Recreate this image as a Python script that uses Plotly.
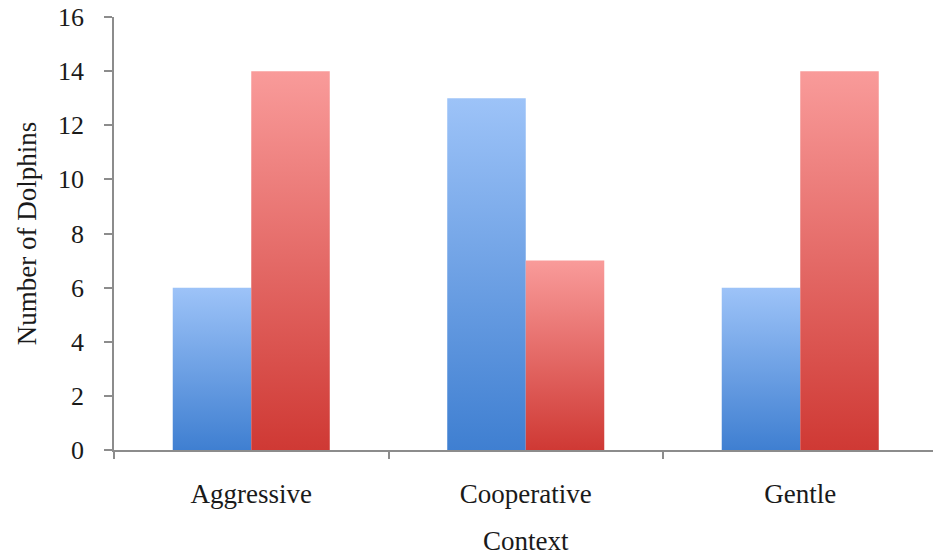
import plotly.graph_objects as go

# Dolphin counts per behavioural context
categories = ["Aggressive", "Cooperative", "Gentle"]
series_blue = [6, 13, 6]
series_red = [14, 7, 14]
y_tick_values = [0, 2, 4, 6, 8, 10, 12, 14, 16]

# gradient colours (bottom, top) for each series
blue_grad = ["#3f7fd1", "#9dc3f8"]
red_grad = ["#cf3934", "#f99b9a"]

bar_width = 0.286          # width of one bar in category units
axis_grey = "#8c8c8c"
font_family = "Liberation Serif"

fig = go.Figure()

series_list = [("Series 1", series_blue, blue_grad), ("Series 2", series_red, red_grad)]
for s_idx, (name, values, grad) in enumerate(series_list):
    for c_idx, val in enumerate(values):
        x0 = c_idx - bar_width + s_idx * bar_width
        x1 = x0 + bar_width
        fig.add_trace(go.Scatter(
            x=[x0, x1, x1, x0, x0],
            y=[0, 0, val, val, 0],
            mode="lines",
            line=dict(width=0),
            fill="toself",
            fillgradient=dict(type="vertical",
                              colorscale=[[0, grad[0]], [1, grad[1]]]),
            name=name,
            text=categories[c_idx],
            hoveron="fills",
            showlegend=False,
        ))

x_range = [-0.5, 2.4836]

fig.update_layout(
    width=933,
    height=558,
    margin=dict(l=114, r=0, t=17, b=108),
    plot_bgcolor="white",
    paper_bgcolor="white",
    font=dict(family=font_family, size=26, color="#1a1a1a"),
    showlegend=False,
    xaxis=dict(
        range=x_range,
        tickmode="array",
        tickvals=list(range(len(categories))),
        ticktext=categories,
        ticks="",
        ticklabelstandoff=19,
        tickfont=dict(size=27),
        showline=True,
        linecolor=axis_grey,
        linewidth=1.5,
        showgrid=False,
        zeroline=False,
    ),
    xaxis2=dict(
        range=x_range,
        overlaying="x",
        anchor="y",
        side="bottom",
        tickmode="array",
        tickvals=[-0.5, 0.5, 1.5, 2.5],
        ticks="outside",
        ticklen=8,
        tickwidth=1.5,
        tickcolor=axis_grey,
        showticklabels=False,
        showline=False,
        showgrid=False,
        zeroline=False,
    ),
    yaxis=dict(
        range=[0, 16],
        tickmode="array",
        tickvals=y_tick_values,
        ticks="outside",
        ticklen=8,
        tickwidth=1.5,
        tickcolor=axis_grey,
        ticklabelstandoff=15,
        tickfont=dict(size=26),
        showline=True,
        linecolor=axis_grey,
        linewidth=1.5,
        showgrid=False,
        zeroline=False,
        title=dict(text="Number of Dolphins", font=dict(size=27), standoff=14),
    ),
)

# invisible trace so the boundary-tick axis is drawn
fig.add_trace(go.Scatter(x=[None], y=[None], xaxis="x2", showlegend=False))

# x-axis title, centred on the middle category
fig.add_annotation(
    text="Context",
    x=1, xref="x",
    y=-(541 - 450) / (558 - 17 - 108), yref="paper",
    yanchor="middle",
    showarrow=False,
    font=dict(size=27),
)

fig.write_html("out.html")
